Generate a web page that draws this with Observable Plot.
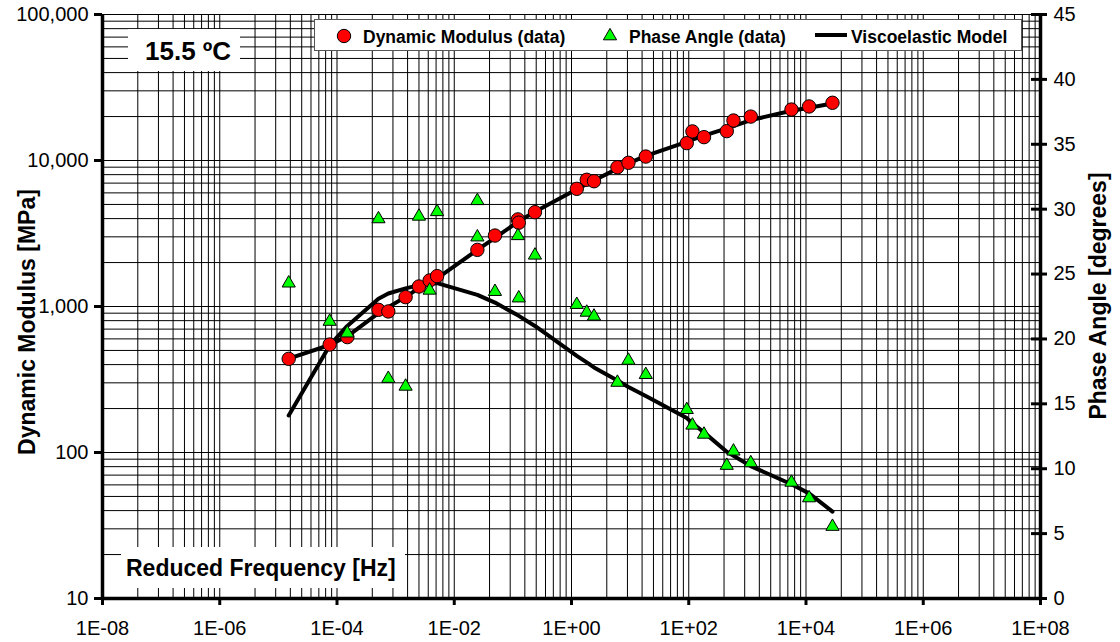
<!DOCTYPE html>
<html><head><meta charset="utf-8">
<script src="https://cdn.jsdelivr.net/npm/d3@7"></script>
<script src="https://cdn.jsdelivr.net/npm/@observablehq/plot@0.6"></script>
<style>
html,body{margin:0;padding:0;background:#fff;}
#chart{width:1120px;height:642px;overflow:hidden;}
</style></head><body><div id="chart"></div>
<script>
// ---- data ----
const modFreq  = [1.5e-5, 7.5e-5, 1.5e-4, 5.1e-4, 7.5e-4, 1.48e-3, 2.5e-3, 3.8e-3, 5.1e-3, 0.0248, 0.0495, 0.122, 0.126, 0.238, 1.23, 1.82, 2.42, 6.07, 9.35, 18.5, 92.5, 115.6, 182, 445, 579, 1143, 5650, 11290, 28300];
const modValue = [438, 549, 617, 949, 925, 1159, 1371, 1507, 1615, 2443, 3062, 3950, 3750, 4426, 6395, 7380, 7212, 8990, 9640, 10640, 13150, 15820, 14450, 15890, 18790, 19990, 22340, 23450, 24850];

const phaseFreq  = [1.5e-5, 7.5e-5, 1.5e-4, 5.1e-4, 7.5e-4, 1.48e-3, 2.5e-3, 3.8e-3, 5.1e-3, 0.0248, 0.0248, 0.0495, 0.122, 0.126, 0.238, 1.23, 1.82, 2.42, 6.07, 9.35, 18.5, 92.5, 115.6, 182, 445, 579, 1143, 5650, 11290, 28300];
const phaseValue = [24.45, 21.5, 20.6, 29.4, 17.1, 16.5, 29.6, 23.9, 29.95, 30.8, 28.0, 23.8, 28.1, 23.3, 26.6, 22.8, 22.2, 21.9, 16.8, 18.5, 17.4, 14.7, 13.5, 12.8, 10.4, 11.5, 10.6, 9.1, 7.9, 5.7];

const modelFreq    = [1.5e-5, 7.5e-5, 1.5e-4, 5.1e-4, 7.5e-4, 1.48e-3, 2.5e-3, 3.8e-3, 5.1e-3, 0.0248, 0.0495, 0.124, 0.238, 1.23, 1.82, 2.42, 6.07, 9.35, 18.5, 92.5, 115.6, 182, 445, 579, 1143, 5650, 11290, 28300];
const modelModulus = [440, 545, 625, 900, 990, 1160, 1340, 1470, 1560, 2440, 2950, 3820, 4450, 6350, 6900, 7300, 8800, 9550, 10750, 13400, 13900, 14800, 16600, 17200, 18900, 21900, 23000, 24600];
const modelPhase   = [14.1, 19.5, 21.0, 23.1, 23.5, 23.9, 24.15, 24.25, 24.3, 23.4, 22.8, 21.8, 21.0, 18.7, 18.2, 17.8, 16.8, 16.3, 15.6, 13.9, 13.5, 12.8, 11.3, 11.0, 10.2, 8.8, 8.1, 6.7];

const leftTicks  = [10, 100, 1000, 10000, 100000];
const rightTicks = [0, 5, 10, 15, 20, 25, 30, 35, 40, 45];
const xTicks     = [1e-8, 1e-6, 1e-4, 1e-2, 1, 1e2, 1e4, 1e6, 1e8];
const yTitle  = "Dynamic Modulus [MPa]";
const y2Title = "Phase Angle [degrees]";
const xTitle  = "Reduced Frequency [Hz]";
const tempLabel = "15.5 ºC";
const legendLabels = ["Dynamic Modulus (data)", "Phase Angle (data)", "Viscoelastic Model"];

// ---- helpers ----
const E_MIN = 10, E_MAX = 1e5, PH_MAX = 45;
const phToE = p => E_MIN * Math.pow(E_MAX / E_MIN, p / PH_MAX);
const fmtX = v => { const k = Math.round(Math.log10(v)); return "1E" + (k < 0 ? "-" : "+") + String(Math.abs(k)).padStart(2, "0"); };

// gridlines: x axis log base 100 (minor at m^2), y axis base 10
const xGrid = [];
for (let k = -8; k < 8; k += 2) for (let m = 1; m <= 9; m++) xGrid.push(Math.pow(10, k) * m * m);
xGrid.push(1e8);
const yGrid = [];
for (let k = 1; k < 5; k++) for (let m = 1; m <= 9; m++) yGrid.push(Math.pow(10, k) * m);
yGrid.push(1e5);

const modData = modFreq.map((f, i) => ({f, e: modValue[i]}));
const phData = phaseFreq.map((f, i) => ({f, p: phaseValue[i]}));
const modelData = modelFreq.map((f, i) => ({f, e: modelModulus[i], p: modelPhase[i]}));

const FONT = "'Liberation Sans', Arial, sans-serif";
const triSize = Math.PI * 4.9 * 4.9;

// annotation boxes / legend / titles (layout only)
function annotations(index, scales, values, dims) {
  const g = d3.create("svg:g").attr("font-family", FONT).attr("font-weight", "bold").attr("fill", "#000").attr("text-anchor", "start");
  // temperature box
  g.append("rect").attr("x", 128).attr("y", 29).attr("width", 112).attr("height", 42).attr("fill", "#fff");
  g.append("text").attr("x", 145).attr("y", 60).attr("font-size", 26).text(tempLabel);
  // x title box
  g.append("rect").attr("x", 121).attr("y", 547).attr("width", 284).attr("height", 41).attr("fill", "#fff");
  g.append("text").attr("x", 126).attr("y", 576).attr("font-size", 23).text(xTitle);
  // legend
  g.append("rect").attr("x", 314.5).attr("y", 19.5).attr("width", 707).attr("height", 31).attr("fill", "#fff").attr("stroke", "#555").attr("stroke-width", 1);
  g.append("circle").attr("cx", 344).attr("cy", 36).attr("r", 6.7).attr("fill", "#ff0000").attr("stroke", "#000");
  g.append("text").attr("x", 363).attr("y", 42.5).attr("font-size", 17.5).text(legendLabels[0]);
  g.append("path").attr("transform", "translate(610,36)").attr("d", d3.symbol(d3.symbolTriangle, triSize)()).attr("fill", "#00ff00").attr("stroke", "#000");
  g.append("text").attr("x", 629).attr("y", 42.5).attr("font-size", 17.5).text(legendLabels[1]);
  g.append("line").attr("x1", 815).attr("x2", 847).attr("y1", 35).attr("y2", 35).attr("stroke", "#000").attr("stroke-width", 4);
  g.append("text").attr("x", 851).attr("y", 42.5).attr("font-size", 17.5).text(legendLabels[2]);
  // axis titles
  g.append("text").attr("transform", "translate(35,322) rotate(-90)").attr("text-anchor", "middle").attr("font-size", 23).text(yTitle);
  g.append("text").attr("transform", "translate(1106,296) rotate(-90)").attr("text-anchor", "middle").attr("font-size", 23).text(y2Title);
  return g.node();
}

const chart = Plot.plot({
  width: 1120, height: 642,
  marginLeft: 102, marginRight: 80, marginTop: 14, marginBottom: 44,
  style: {fontFamily: FONT, background: "#fff", color: "#000"},
  x: {type: "log", domain: [1e-8, 1e8], label: null},
  y: {type: "log", domain: [10, 1e5], label: null},
  marks: [
    Plot.ruleX(xGrid, {stroke: "#000", strokeWidth: 1}),
    Plot.ruleY(yGrid, {stroke: "#000", strokeWidth: 1}),
    annotations,
    Plot.ruleX([1e-8], {stroke: "#000", strokeWidth: 3.5}),
    Plot.ruleX([1e8], {stroke: "#000", strokeWidth: 3.5}),
    Plot.ruleY([10], {stroke: "#000", strokeWidth: 3.5}),
    Plot.axisY({anchor: "left", ticks: leftTicks, tickFormat: d3.format(","), tickSize: 8, tickPadding: 6, fontSize: 20, strokeWidth: 3, label: null}),
    Plot.axisX({anchor: "bottom", ticks: xTicks, tickFormat: fmtX, tickSize: 7, tickPadding: 15, fontSize: 20, strokeWidth: 3, label: null}),
    Plot.axisY({anchor: "right", ticks: rightTicks.map(phToE), tickFormat: () => "", tickSize: 16, dx: -10, strokeWidth: 3, label: null}),
    Plot.text(rightTicks, {frameAnchor: "right", y: d => phToE(d), text: d => String(d), dx: 13, textAnchor: "start", fontSize: 20}),
    Plot.line(modelData, {x: "f", y: "e", stroke: "#000", strokeWidth: 4}),
    Plot.line(modelData, {x: "f", y: d => phToE(d.p), stroke: "#000", strokeWidth: 4}),
    Plot.dot(modData, {x: "f", y: "e", r: 6.7, fill: "#ff0000", stroke: "#000", strokeWidth: 1}),
    Plot.dot(phData, {x: "f", y: d => phToE(d.p), symbol: "triangle", r: 4.9, fill: "#00ff00", stroke: "#000", strokeWidth: 1, dy: 2})
  ]
});
document.getElementById("chart").appendChild(chart);
</script></body></html>
